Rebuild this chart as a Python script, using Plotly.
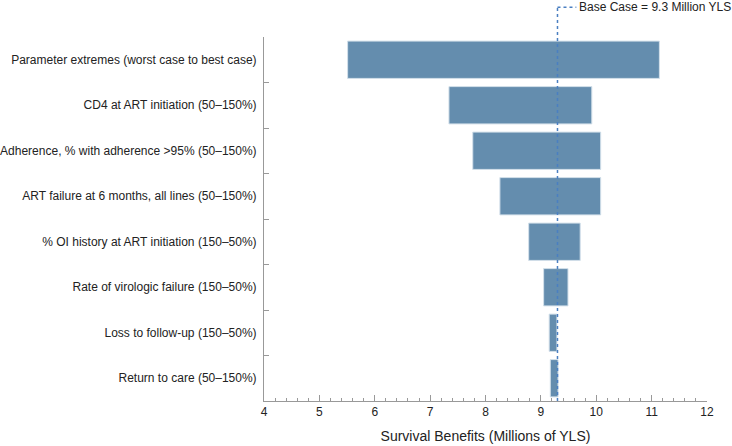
import plotly.graph_objects as go

categories = [
    "Parameter extremes (worst case to best case)",
    "CD4 at ART initiation (50\u2013150%)",
    "Adherence, % with adherence >95% (50\u2013150%)",
    "ART failure at 6 months, all lines (50\u2013150%)",
    "% OI history at ART initiation (150\u201350%)",
    "Rate of virologic failure (150\u201350%)",
    "Loss to follow-up (150\u201350%)",
    "Return to care (50\u2013150%)",
]
low_values = [5.51, 7.34, 7.77, 8.26, 8.78, 9.05, 9.15, 9.17]
high_values = [11.14, 9.92, 10.08, 10.08, 9.71, 9.49, 9.29, 9.31]
base_case = 9.3
x_ticks = [4, 5, 6, 7, 8, 9, 10, 11, 12]

FONT = "Liberation Sans, Arial, Helvetica, sans-serif"

fig = go.Figure()
fig.add_trace(go.Bar(
    y=categories,
    x=[h - l for h, l in zip(high_values, low_values)],
    base=low_values,
    orientation="h",
    width=0.82,
    marker=dict(color="#648DAE", line=dict(color="#d3e0ea", width=1)),
    showlegend=False,
    hoverinfo="skip",
))

TOP = 1.082
fig.add_shape(type="line", xref="x", yref="paper", x0=base_case, x1=base_case,
              y0=0, y1=TOP, line=dict(color="#4a7fc1", width=1.5, dash="dot"))
fig.add_shape(type="line", xref="x", yref="paper", x0=base_case, x1=9.64,
              y0=TOP, y1=TOP, line=dict(color="#4a7fc1", width=1.5, dash="dot"))
fig.add_annotation(x=9.66, y=TOP, xref="x", yref="paper", xanchor="left",
                   yanchor="middle", showarrow=False,
                   text=f"Base Case = {base_case} Million YLS",
                   font=dict(size=12, color="#222", family=FONT))

fig.update_layout(
    width=732, height=446,
    margin=dict(l=264, r=25, t=37, b=45),
    plot_bgcolor="white", paper_bgcolor="white",
    font=dict(family=FONT, size=12, color="#222"),
    bargap=0.18,
)
fig.update_xaxes(
    range=[4, 12], tickvals=x_ticks, ticks="inside", ticklen=6, tickcolor="#999",
    showline=True, linecolor="#999", linewidth=1, showgrid=False, zeroline=False,
    minor=dict(dtick=0.2, ticks="inside", ticklen=3, tickcolor="#999", showgrid=False),
    title=dict(text="Survival Benefits (Millions of YLS)", standoff=12),
    tickfont=dict(size=12), automargin=False,
)
fig.update_yaxes(
    type="category", categoryorder="array", categoryarray=categories,
    range=[7.5, -0.5], tickson="boundaries", ticks="inside", ticklen=5,
    tickcolor="#999", showline=True, linecolor="#999", linewidth=1,
    showgrid=False, zeroline=False, tickfont=dict(size=12), automargin=False,
    ticklabelstandoff=4,
)

fig.write_html("out.html", config={"displayModeBar": False},
               post_script="document.body.style.margin='0px';document.body.style.overflow='hidden';")
